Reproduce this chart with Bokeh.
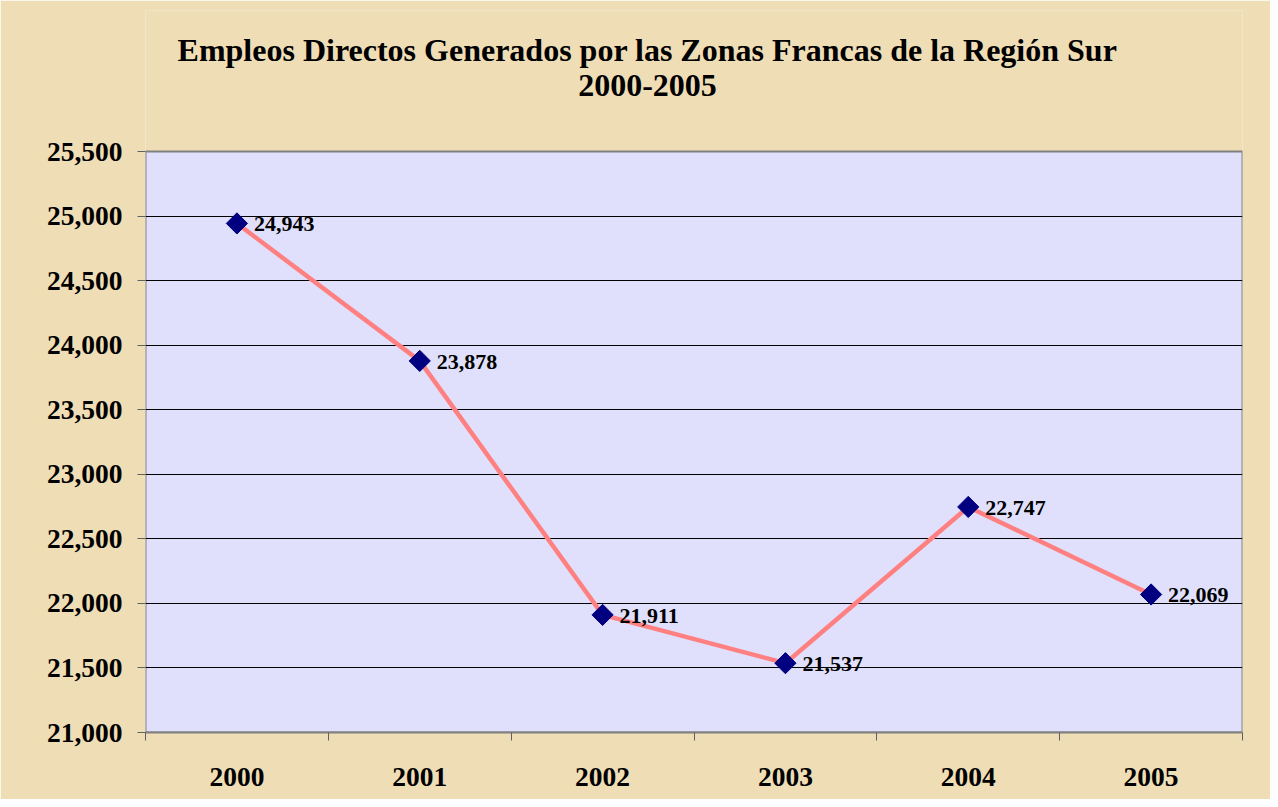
from bokeh.plotting import figure
from bokeh.models import Range1d, FixedTicker, NumeralTickFormatter, Label
from bokeh.core.properties import value
from bokeh.embed import file_html
from bokeh.resources import INLINE
import math

# ---- data ----
years = ["2000", "2001", "2002", "2003", "2004", "2005"]
empleos = [24943, 23878, 21911, 21537, 22747, 22069]
y_ticks = [21000, 21500, 22000, 22500, 23000, 23500, 24000, 24500, 25000, 25500]
title_line1 = "Empleos Directos Generados por las Zonas Francas de la Región Sur"
title_line2 = "2000-2005"

FONT = "Liberation Serif"
PARCHMENT = "#EFDDB6"

xs = [i + 0.5 for i in range(len(years))]
point_labels = [f"{v:,}" for v in empleos]

W, H = 1270, 799
AREA_TOP, AREA_BOTTOM, FRAME_TOP = 151, 732, 10
units_per_px = (y_ticks[-1] - y_ticks[0]) / (AREA_BOTTOM - AREA_TOP)
y_top = y_ticks[-1] + (AREA_TOP - FRAME_TOP) * units_per_px

p = figure(width=W, height=H, output_backend="svg", toolbar_location=None,
           x_range=Range1d(0, len(years)), y_range=Range1d(y_ticks[0], y_top),
           min_border_left=145, min_border_right=W - 1242,
           min_border_top=FRAME_TOP, min_border_bottom=H - AREA_BOTTOM)

p.background_fill_color = PARCHMENT
p.border_fill_color = PARCHMENT
p.outline_line_color = None

# plot area (lavender box bounded by the axis ranges)
p.quad(left=[0], right=[len(years)], bottom=[y_ticks[0]], top=[y_ticks[-1]],
       fill_color="#E0E0FC", line_color="#808080", line_width=2, level="underlay")

# y axis
p.yaxis.ticker = FixedTicker(ticks=y_ticks)
p.yaxis.formatter = NumeralTickFormatter(format="0,0")
p.yaxis.major_label_text_font = FONT
p.yaxis.major_label_text_font_style = "bold"
p.yaxis.major_label_text_font_size = "27.5px"
p.yaxis.major_label_text_color = "black"
p.yaxis.major_tick_out = 8
p.yaxis.major_tick_in = 0
p.yaxis.minor_tick_line_color = None
p.yaxis.axis_line_color = None
p.yaxis.major_tick_line_color = "#606060"
p.yaxis.major_tick_line_width = 1
p.yaxis.major_label_standoff = 15

# x axis
p.xaxis.ticker = FixedTicker(ticks=xs, minor_ticks=list(range(len(years) + 1)))
p.xaxis.major_label_overrides = {x: y for x, y in zip(xs, years)}
p.xaxis.major_label_text_font = FONT
p.xaxis.major_label_text_font_style = "bold"
p.xaxis.major_label_text_font_size = "27.5px"
p.xaxis.major_label_text_color = "black"
p.xaxis.major_tick_out = 0
p.xaxis.major_tick_in = 0
p.xaxis.major_tick_line_color = None
p.xaxis.minor_tick_out = 8
p.xaxis.minor_tick_in = 0
p.xaxis.minor_tick_line_color = "#606060"
p.xaxis.axis_line_color = "#808080"
p.xaxis.axis_line_width = 2
p.xaxis.major_label_standoff = 27

# grid
p.xgrid.grid_line_color = None
p.ygrid.ticker = FixedTicker(ticks=y_ticks[1:-1])
p.ygrid.grid_line_color = "black"
p.ygrid.grid_line_width = 1

# series
p.line(xs, empleos, line_color="#FF8080", line_width=4.5)
p.scatter(xs, empleos, marker="square", angle=math.pi / 4, size=15,
          fill_color="#000080", line_color="#000080")
p.text(xs, empleos, text=point_labels, x_offset=17, y_offset=1,
       text_baseline="middle", text_align="left",
       text_font=value(FONT), text_font_style="bold", text_font_size="22px",
       text_color="black")

# title (two lines, inside the extended frame above the plot area)
title_x = (647 - 145) / ((1242 - 145) / len(years))
for txt, mid_px in [(title_line1, 49), (title_line2, 85)]:
    p.add_layout(Label(x=title_x, y=y_ticks[-1] + (AREA_TOP - mid_px) * units_per_px,
                       text=txt, text_align="center", text_baseline="middle",
                       text_font=FONT, text_font_style="bold", text_font_size="32px",
                       text_color="black"))

open("out.html", "w").write(file_html(p, INLINE))
